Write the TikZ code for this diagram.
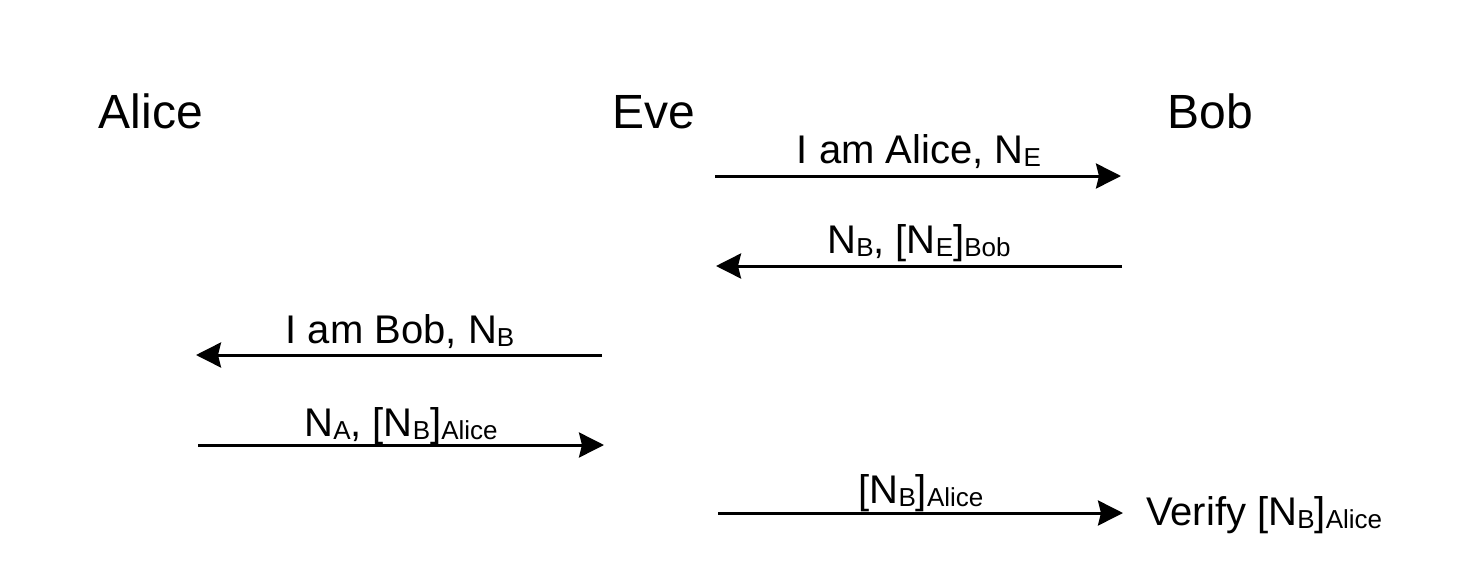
\documentclass[tikz,border=0pt]{standalone}
\usepackage{fontspec}
\setmainfont{Liberation Sans}
\usetikzlibrary{arrows.meta}
\newcommand\sbx[1]{\raisebox{-3pt}{\fontsize{26}{26}\selectfont #1}}
\tikzset{
  party/.style={anchor=base, inner sep=0pt, font=\fontsize{48}{50}\selectfont},
  msg/.style={anchor=base, inner sep=0pt, font=\fontsize{40}{42}\selectfont},
  arr/.style={line width=3pt, -{Stealth[length=25pt,width=25pt,inset=3pt]}}
}
\begin{document}
\begin{tikzpicture}[x=1pt,y=-1pt]
\useasboundingbox (0,0) rectangle (1464,570);
\node[party] (alice) at (151,128) {Alice};
\node[party] (eve) at (654,128) {Eve};
\node[party] (bob) at (1210,128) {Bob};
% message 1
\coordinate (m1s) at (715,176); \coordinate (m1e) at (1121,176);
\draw[arr] (m1s) -- (m1e);
\node[msg] (l1) at (919,163) {I am Alice, N\sbx{E}};
% message 2
\coordinate (m2s) at (1122,266); \coordinate (m2e) at (716,266);
\draw[arr] (m2s) -- (m2e);
\node[msg] (l2) at (919,253) {N\sbx{B}, [N\sbx{E}]\sbx{Bob}};
% message 3
\coordinate (m3s) at (602,355); \coordinate (m3e) at (196,355);
\draw[arr] (m3s) -- (m3e);
\node[msg] (l3) at (400,343) {I am Bob, N\sbx{B}};
% message 4
\coordinate (m4s) at (198,445); \coordinate (m4e) at (604,445);
\draw[arr] (m4s) -- (m4e);
\node[msg] (l4) at (401,436) {N\sbx{A}, [N\sbx{B}]\sbx{Alice}};
% message 5
\coordinate (m5s) at (718,513); \coordinate (m5e) at (1123,513);
\draw[arr] (m5s) -- (m5e);
\node[msg] (l5) at (921,503) {[N\sbx{B}]\sbx{Alice}};
\node[msg, anchor=base west] (verify) at (1146,525) {Verify [N\sbx{B}]\sbx{Alice}};
\end{tikzpicture}
\end{document}
